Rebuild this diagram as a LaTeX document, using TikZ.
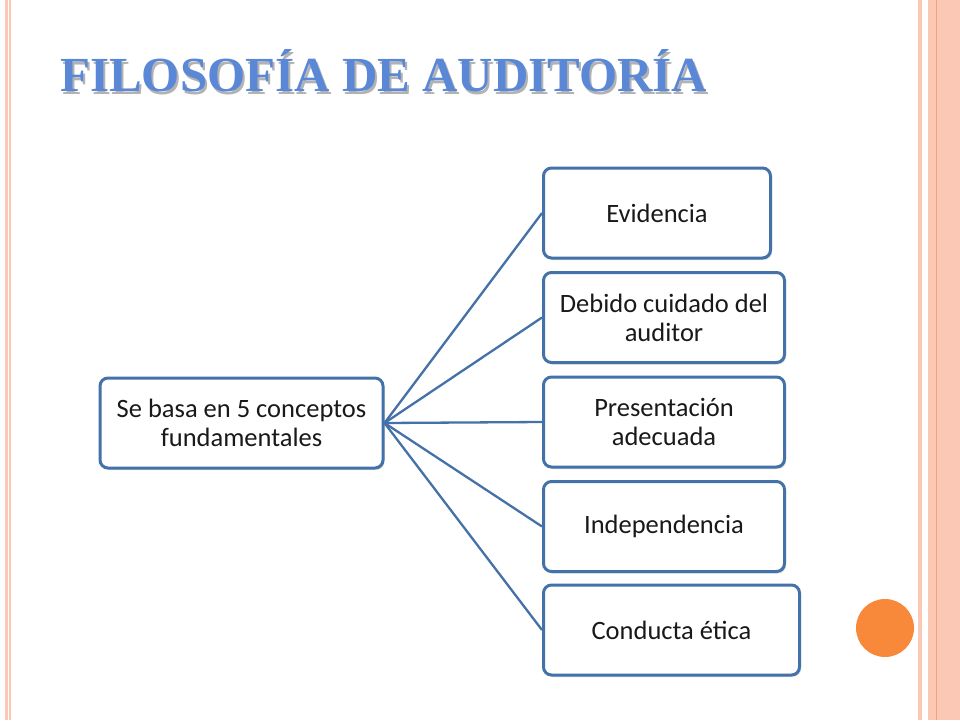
\documentclass[tikz,border=0pt]{standalone}
\usepackage{fontspec}
\setmainfont{Carlito}
\newfontfamily\titlefont{Liberation Serif}
\usetikzlibrary{shadows}
\definecolor{boxblue}{HTML}{4472A8}
\definecolor{salmon}{HTML}{FBC8B5}
\definecolor{stripeline}{HTML}{F2A27E}
\definecolor{dotorange}{HTML}{F8883A}
\definecolor{titleblue}{HTML}{5A88D6}
\tikzset{
  concept/.style={draw=boxblue, line width=3pt, rounded corners=8pt, fill=white,
    minimum height=90pt, align=center, text=black!90, inner sep=4pt,
    font=\fontsize{26.5}{29}\selectfont,
    drop shadow={shadow xshift=1.5pt, shadow yshift=-2pt, opacity=0.25}},
  branch/.style={draw=boxblue, line width=2.3pt}
}
\begin{document}
\begin{tikzpicture}[x=1pt,y=-1pt]
\useasboundingbox (0,0) rectangle (960,720);
% side stripes
\fill[salmon] (5,0) rectangle (11,720);
\draw[white, line width=0.8pt] (8,0) -- (8,720);
\fill[salmon] (918,0) rectangle (922,720);
\fill[salmon] (928,0) rectangle (960,720);
\draw[stripeline, line width=0.8pt] (936,0) -- (936,720);
\fill[dotorange] (885,628) circle (29);
% title
\node[anchor=base west, inner sep=0, text=black!30, font=\titlefont\bfseries\fontsize{49}{49}\selectfont] at (62,94) {FILOSOFÍA DE AUDITORÍA};
\node[anchor=base west, inner sep=0, text=titleblue, font=\titlefont\bfseries\fontsize{49}{49}\selectfont] (title) at (60,91) {FILOSOFÍA DE AUDITORÍA};
% boxes
\node[concept, minimum width=283pt] (root) at (241.5,423) {Se basa en 5 conceptos\\fundamentales};
\node[concept, minimum width=227pt, anchor=west] (evid) at (542,213) {Evidencia};
\node[concept, minimum width=241pt, anchor=west] (cuid) at (542,317.5) {Debido cuidado del\\auditor};
\node[concept, minimum width=241pt, anchor=west] (pres) at (542,422) {Presentación\\adecuada};
\node[concept, minimum width=241pt, anchor=west] (indep) at (542,526.5) {Independencia};
\node[concept, minimum width=256pt, anchor=west] (etica) at (542,630) {Conducta ética};
% connectors
\foreach \n in {evid,cuid,pres,indep,etica}
  \draw[branch] (root.east) -- (\n.west);
\end{tikzpicture}
\end{document}
